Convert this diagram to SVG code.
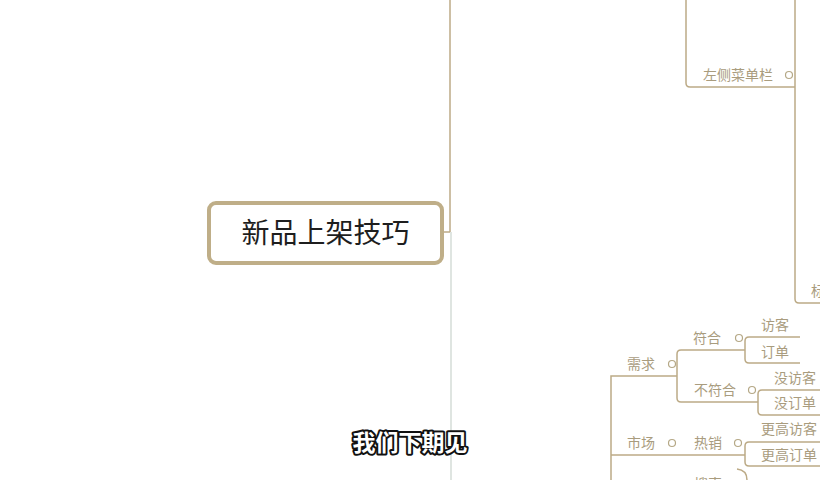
<svg xmlns="http://www.w3.org/2000/svg" width="820" height="480" viewBox="0 0 820 480">
<style>
.ln{fill:none;stroke:#bcaa86;stroke-width:1.5}
.t{font-family:"Noto Sans CJK SC","Noto Sans",sans-serif;font-size:14px;fill:#a99c7e}
.c{fill:none;stroke:#b5a886;stroke-width:1.2}
.root{fill:#fff;stroke:#bfae88;stroke-width:4}
.rt{font-family:"Noto Sans CJK SC","Noto Sans",sans-serif;font-size:28px;fill:#1e1e1e}
.sub{font-family:"Noto Sans CJK SC","Noto Sans",sans-serif;font-size:23px;font-weight:bold;fill:#fff;stroke:#111;stroke-width:4;paint-order:stroke;stroke-linejoin:round}
</style>
<rect width="820" height="480" fill="#fff"/>
<g id="connectors">
<path class="ln" d="M450,0 V232"/>
<path d="M451,232 V480" fill="none" stroke="#dfe5e1" stroke-width="2"/>
<path class="ln" d="M442,232 H450"/>
<path class="ln" d="M686,0 V83 Q686,87 690,87 H795"/>
<path class="ln" d="M795,0 V299 Q795,303 799,303 H820"/>
<path class="ln" d="M611,480 V376 H677"/>
<path class="ln" d="M745,350 H681 Q677,350 677,354 V398 Q677,402 681,402 H758"/>
<path class="ln" d="M800,337 H749 Q745,337 745,341 V359 Q745,363 749,363 H800"/>
<path class="ln" d="M820,390 H762 Q758,390 758,394 V411 Q758,415 762,415 H820"/>
<path class="ln" d="M611,455 H745"/>
<path class="ln" d="M820,442 H749 Q745,442 745,446 V462 Q745,466 749,466 H820"/>
<path class="ln" d="M737,469 Q747,470 747,480"/>
</g>
<g id="root"><rect class="root" x="209" y="203" width="233" height="60" rx="7"/><text class="rt" x="325.5" y="243" text-anchor="middle">新品上架技巧</text></g>
<g id="n-menu"><text class="t" x="703" y="80">左侧菜单栏</text><circle class="c" cx="789" cy="75" r="3.5"/></g>
<g id="n-title"><text class="t" x="811" y="296">标题</text></g>
<g id="n-xuqiu"><text class="t" x="627" y="369">需求</text><circle class="c" cx="672" cy="364" r="3.5"/></g>
<g id="n-fuhe"><text class="t" x="693" y="343">符合</text><circle class="c" cx="739" cy="338" r="3.5"/></g>
<g id="n-fangke"><text class="t" x="761" y="330">访客</text></g>
<g id="n-dingdan"><text class="t" x="761" y="357">订单</text></g>
<g id="n-bufuhe"><text class="t" x="694" y="395">不符合</text><circle class="c" cx="752" cy="390" r="3.5"/></g>
<g id="n-meifangke"><text class="t" x="774" y="383">没访客</text></g>
<g id="n-meidingdan"><text class="t" x="774" y="408">没订单</text></g>
<g id="n-shichang"><text class="t" x="627" y="448">市场</text><circle class="c" cx="672" cy="443" r="3.5"/></g>
<g id="n-rexiao"><text class="t" x="694" y="448">热销</text><circle class="c" cx="738" cy="443" r="3.5"/></g>
<g id="n-genggaofangke"><text class="t" x="761" y="434">更高访客</text></g>
<g id="n-genggaodingdan"><text class="t" x="761" y="460">更高订单</text></g>
<g id="n-sousuo"><text class="t" x="694" y="489">搜索</text></g>
<text class="sub" x="410" y="451" text-anchor="middle">我们下期见</text>
</svg>
